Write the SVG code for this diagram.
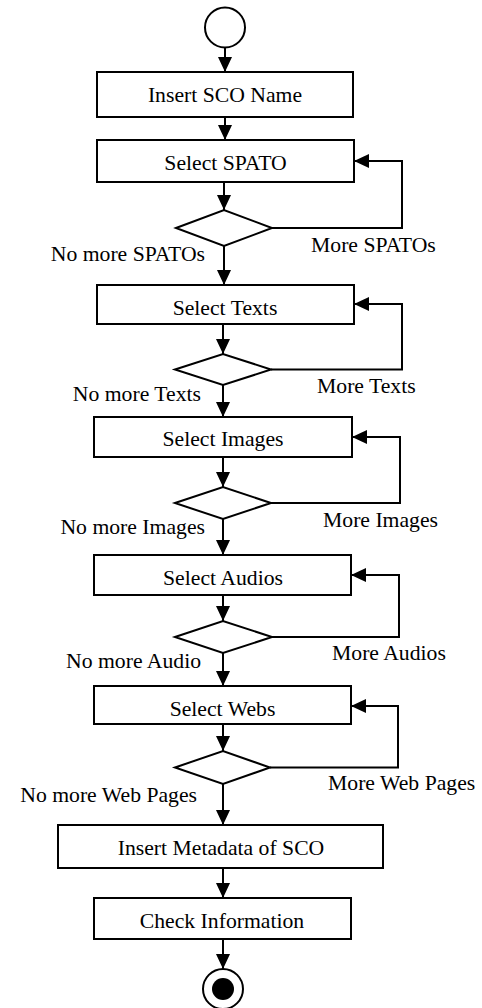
<svg xmlns="http://www.w3.org/2000/svg" width="482" height="1008" viewBox="0 0 482 1008">
  <style>
    .box { fill: #fff; stroke: #000; stroke-width: 2; }
    .dec { fill: #fff; stroke: #000; stroke-width: 2; }
    .lbl { font-family: "Liberation Serif", "Times New Roman", serif; font-size: 21.7px; fill: #000; }
    .mid { text-anchor: middle; }
    .end { text-anchor: end; }
    .edge { fill: none; stroke: #000; stroke-width: 2; }
  </style>
  <defs>
    <marker id="arrow" markerUnits="userSpaceOnUse" markerWidth="16" markerHeight="14" refX="15" refY="7" orient="auto">
      <path d="M0,0 L15,7 L0,14 Z" fill="#000"/>
    </marker>
  </defs>

  <rect width="482" height="1008" fill="#fff"/>

  <!-- connectors -->
  <g id="connectors">
    <path class="edge" d="M225,48 V72" marker-end="url(#arrow)"/>
    <path class="edge" d="M225,117 V140" marker-end="url(#arrow)"/>
    <path class="edge" d="M224,182 V210" marker-end="url(#arrow)"/>
    <path class="edge" d="M224,246 V285" marker-end="url(#arrow)"/>
    <path class="edge" d="M223,324 V354" marker-end="url(#arrow)"/>
    <path class="edge" d="M223,385 V417" marker-end="url(#arrow)"/>
    <path class="edge" d="M223,457 V487" marker-end="url(#arrow)"/>
    <path class="edge" d="M223,519 V555" marker-end="url(#arrow)"/>
    <path class="edge" d="M223,595 V621" marker-end="url(#arrow)"/>
    <path class="edge" d="M223,653 V686" marker-end="url(#arrow)"/>
    <path class="edge" d="M223,724 V751" marker-end="url(#arrow)"/>
    <path class="edge" d="M223,784 V825" marker-end="url(#arrow)"/>
    <path class="edge" d="M223,868 V898" marker-end="url(#arrow)"/>
    <path class="edge" d="M223,939 V969" marker-end="url(#arrow)"/>

    <!-- repeat loops -->
    <path class="edge" d="M272,228 H402 V161 H354" marker-end="url(#arrow)"/>
    <path class="edge" d="M271,369.5 H402 V304 H354" marker-end="url(#arrow)"/>
    <path class="edge" d="M271,503 H400 V437 H352" marker-end="url(#arrow)"/>
    <path class="edge" d="M272,637 H399 V575 H351" marker-end="url(#arrow)"/>
    <path class="edge" d="M270,767.5 H398 V706 H351" marker-end="url(#arrow)"/>

    <text class="lbl" x="311" y="252">More SPATOs</text>
    <text class="lbl end" x="205" y="261">No more SPATOs</text>
    <text class="lbl" x="317" y="393">More Texts</text>
    <text class="lbl end" x="201" y="400.5">No more Texts</text>
    <text class="lbl" x="323" y="527">More Images</text>
    <text class="lbl end" x="205" y="534">No more Images</text>
    <text class="lbl" x="332" y="660">More Audios</text>
    <text class="lbl end" x="201" y="668">No more Audio</text>
    <text class="lbl" x="328" y="790">More Web Pages</text>
    <text class="lbl end" x="197" y="801.5">No more Web Pages</text>
  </g>

  <!-- start node -->
  <g id="start">
    <circle cx="225" cy="27.5" r="20" fill="#fff" stroke="#000" stroke-width="2"/>
  </g>

  <g id="insert-sco-name">
    <rect class="box" x="97" y="72" width="256" height="45"/>
    <text class="lbl mid" x="225" y="102">Insert SCO Name</text>
  </g>

  <g id="select-spato">
    <rect class="box" x="97" y="140" width="257" height="42"/>
    <text class="lbl mid" x="225.5" y="170">Select SPATO</text>
  </g>
  <g id="decision-spato">
    <polygon class="dec" points="176,228 224,210 272,228 224,246"/>
  </g>

  <g id="select-texts">
    <rect class="box" x="97" y="285" width="257" height="39"/>
    <text class="lbl mid" x="225" y="315">Select Texts</text>
  </g>
  <g id="decision-texts">
    <polygon class="dec" points="175,369.5 223,354 271,369.5 223,385"/>
  </g>

  <g id="select-images">
    <rect class="box" x="94" y="417" width="258" height="40"/>
    <text class="lbl mid" x="223" y="446">Select Images</text>
  </g>
  <g id="decision-images">
    <polygon class="dec" points="175,503 223,487 271,503 223,519"/>
  </g>

  <g id="select-audios">
    <rect class="box" x="94" y="555" width="257" height="40"/>
    <text class="lbl mid" x="223" y="585">Select Audios</text>
  </g>
  <g id="decision-audios">
    <polygon class="dec" points="175,637 223,621 272,637 223,653"/>
  </g>

  <g id="select-webs">
    <rect class="box" x="94" y="686" width="257" height="38"/>
    <text class="lbl mid" x="222.5" y="716">Select Webs</text>
  </g>
  <g id="decision-webs">
    <polygon class="dec" points="175,767.5 223,751 270,767.5 223,784"/>
  </g>

  <g id="insert-metadata">
    <rect class="box" x="58" y="825" width="325" height="43"/>
    <text class="lbl mid" x="221" y="855">Insert Metadata of SCO</text>
  </g>

  <g id="check-information">
    <rect class="box" x="94" y="898" width="257" height="41"/>
    <text class="lbl mid" x="222" y="928">Check Information</text>
  </g>

  <!-- end node -->
  <g id="end">
    <circle cx="223" cy="989" r="20" fill="#fff" stroke="#000" stroke-width="2"/>
    <circle cx="223" cy="989" r="11" fill="#000"/>
  </g>
</svg>
